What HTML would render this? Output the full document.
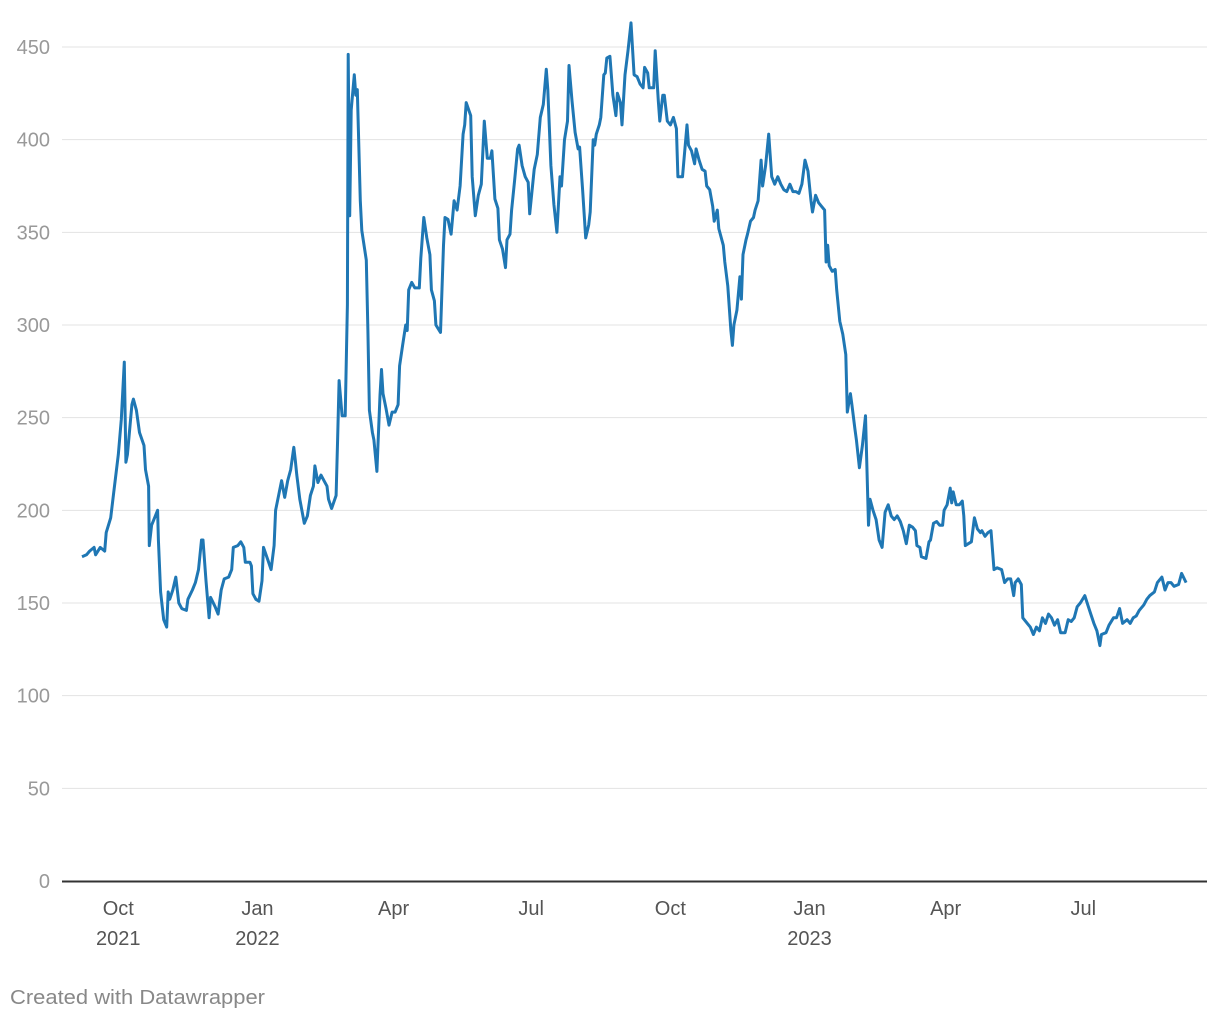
<!DOCTYPE html>
<html><head><meta charset="utf-8">
<style>
html,body{margin:0;padding:0;background:#fff;}
body{width:1220px;height:1020px;overflow:hidden;font-family:"Liberation Sans",Arial,sans-serif;}
</style></head>
<body>
<svg id="chart" width="1220" height="1020" xmlns="http://www.w3.org/2000/svg">
<g id="grid"></g>
<g id="yax"></g>
<g id="xax"></g>
<path id="line" fill="none" stroke="#1f77b4" stroke-width="3" stroke-linejoin="round"/>
<text x="10" y="1004" font-size="20" textLength="255" lengthAdjust="spacingAndGlyphs" fill="#888">Created with Datawrapper</text>
</svg>
<script>
const days=[0,3,5,8,9,12,15,16,19,21,24,26,28,29,30,33,34,36,38,41,42,44,44.5,46,48,50,50.5,52,54,56,57,58,60,62,64,66,69,70,73,75,77,79,80,82,84,85,88,90,92,94,97,99,100,103,105,107,108,111,112,113,115,117,119,120,123,125,127,128,130,132,134,136,138,140,141,142,144,147,149,151,153,154,156,158,160,162,163,165,168,169,170,172,174,175.5,176,177,178,180,181,182,184,185,188,189,190,192,193,195,197,198,199,201,203,205,207,209,210,212,214,215,216,218,220,223,224,226,228,230,231,233,234,237,239,240,242,244,246,248,250,252,253,254,257,258,260,262,264,266,268,270,271,273,275,276,278,280,281,283,284,286,288,289,291,293,295,296,298,299,301,303,305,307,308,310,312,314,316,317,319,321,322,324,326,328,329,331,333,335,336,338,339,340,342,343,345,346,347,349,351,353,354,356,357,359,361,363,365,367,369,371,372,374,375,378,379,381,382,384,385,387,389,391,393,394,397,400,401,403,405,406,408,410,412,413,415,417,418,420,421,424,425,427,429,430,431,433,435,436,437,439,440,442,444,445,447,449,450,452,454,456,458,460,462,464,466,468,470,472,474,476,478,480,482,483,485,487,489,491,492,493,494,496,498,499,501,503,505,506,508,509,511,512,514,516,518,520,521,523,525,527,529,531,533,535,537,539,541,543,545,547,549,551,552,554,555,558,560,561,563,565,567,569,570,572,574,575,576,578,580,582,583,584,586,588,590,592,594,595,597,599,601,603,605,608,610,612,614,616,617,619,621,622,625,627,629,631,633,635,637,639,641,643,645,647,650,652,654,656,658,660,663,665,667,669,671,673,674,677,679,682,684,686,688,691,693,695,697,699,702,704,706,709,711,714,716,718,720,722,725,727,730];
const values=[175,176,178,180,176,180,178,188,196,210,230,249,280,226,230,257,260,254,242,235,222,213,181,192,196,200,184,156,141,137,156,152,157,164,150,147,146,152,157,161,168,184,184,162,142,153,148,144,157,163,164,168,180,181,183,180,172,172,170,155,152,151,162,180,173,168,181,200,208,216,207,216,222,234,227,219,206,193,197,208,213,224,215,219,216,213,206,201,208,238,270,251,251,311,446,359,416,435,424,427,367,351,335,297,254,242,238,221,262,276,263,255,246,253,253,257,278,289,300,297,319,323,320,320,336,358,347,338,319,313,300,296,343,358,357,349,367,362,375,403,408,420,413,380,359,370,376,410,390,390,394,368,363,346,341,331,346,349,362,378,395,397,386,380,377,360,376,384,392,412,419,438,427,386,365,350,380,375,400,410,440,421,404,395,396,373,347,354,361,400,397,403,408,412,435,436,444,445,424,413,425,420,408,435,448,463,435,434,430,428,439,436,428,428,448,421,410,424,424,410,408,412,406,380,380,408,397,394,387,395,389,384,383,375,373,364,356,362,352,343,334,321,297,289,300,308,326,314,338,346,349,356,358,362,367,389,375,386,403,380,376,380,376,373,372,376,372,372,371,376,389,383,367,361,370,366,364,362,334,343,332,329,330,319,302,295,284,253,263,257,244,238,223,235,251,192,206,200,195,184,180,199,203,197,195,197,194,189,182,192,191,189,181,180,175,174,183,184,193,194,192,192,200,203,212,204,210,203,203,205,197,181,182,183,196,190,188,189,186,188,189,168,169,168,161,163,163,154,161,163,160,142,139,137,133,137,135,142,139,144,142,138,141,134,134,141,140,142,148,150,154,149,144,139,135,127,133,134,138,142,142,147,139,141,139,142,143,146,149,152,154,156,161,164,157,161,161,159,160,166,161];
const yTicks=[0,50,100,150,200,250,300,350,400,450];
const xTickDays=[24,116,206,297,389,481,571,662];
const xTickLabels=[["Oct","2021"],["Jan","2022"],["Apr",""],["Jul",""],["Oct",""],["Jan","2023"],["Apr",""],["Jul",""]];
const NS="http://www.w3.org/2000/svg";
const X=d=>82+d*1.5125;
const Y=v=>881-v*1.8533;
const grid=document.getElementById('grid'),yax=document.getElementById('yax'),xax=document.getElementById('xax');
yTicks.forEach(t=>{
  if(t>0){const l=document.createElementNS(NS,'line');
  
  
  l.setAttribute('x1',62);l.setAttribute('x2',1207);l.setAttribute('y1',Y(t));l.setAttribute('y2',Y(t));
  l.setAttribute('stroke','#e3e3e3');l.setAttribute('stroke-width','1');grid.appendChild(l);}
  const tx=document.createElementNS(NS,'text');
  
  
  tx.setAttribute('x',50);tx.setAttribute('y',Y(t)+7);tx.setAttribute('text-anchor','end');
  tx.setAttribute('font-size','20');tx.setAttribute('fill','#999');tx.textContent=t;yax.appendChild(tx);
});
const base=document.createElementNS(NS,'line');


base.setAttribute('x1',62);base.setAttribute('x2',1207);base.setAttribute('y1',881.5);base.setAttribute('y2',881.5);
base.setAttribute('stroke','#333');base.setAttribute('stroke-width','2');xax.appendChild(base);
xTickDays.forEach((d,i)=>{
  xTickLabels[i].forEach((s,j)=>{ if(!s)return;
    const tx=document.createElementNS(NS,'text');
    
    
    tx.setAttribute('x',X(d));tx.setAttribute('y',915+j*30);tx.setAttribute('text-anchor','middle');
    tx.setAttribute('font-size','20');tx.setAttribute('fill','#555');tx.textContent=s;xax.appendChild(tx);
  });
});
document.getElementById('line').setAttribute('d',days.map((d,i)=>(i?'L':'M')+X(d).toFixed(1)+','+Y(values[i]).toFixed(1)).join(''));
</script>
</body></html>
